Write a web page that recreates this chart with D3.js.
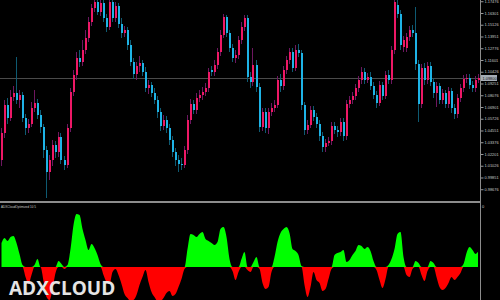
<!DOCTYPE html>
<html>
<head>
<meta charset="utf-8">
<script src="https://cdnjs.cloudflare.com/ajax/libs/d3/7.8.5/d3.min.js"></script>
<style>
  html, body { margin: 0; padding: 0; background: #000; overflow: hidden; }
  svg { display: block; }
</style>
</head>
<body>
<svg id="chart_svg" width="500" height="300"></svg>
<script>
// price bars, oldest first
const g_open = [
    1.016, 1.043, 1.071, 1.058, 1.079, 1.083, 1.076, 1.081, 1.058, 1.048,
    1.052, 1.068, 1.073, 1.061, 1.049, 1.026, 1.004, 1.016, 1.031, 1.024,
    1.039, 1.016, 1.011, 1.048, 1.084, 1.101, 1.118, 1.114, 1.126, 1.138,
    1.154, 1.168, 1.174, 1.164, 1.173, 1.158, 1.149, 1.174, 1.158, 1.170,
    1.152, 1.143, 1.146, 1.131, 1.114, 1.102, 1.110, 1.113, 1.104, 1.088,
    1.091, 1.083, 1.076, 1.064, 1.050, 1.056, 1.048, 1.036, 1.024, 1.016,
    1.012, 1.011, 1.026, 1.056, 1.072, 1.066, 1.078, 1.081, 1.084, 1.088,
    1.106, 1.104, 1.111, 1.124, 1.141, 1.159, 1.143, 1.128, 1.118, 1.121,
    1.136, 1.149, 1.158, 1.099, 1.094, 1.111, 1.089, 1.049, 1.064, 1.048,
    1.064, 1.068, 1.071, 1.096, 1.090, 1.106, 1.116, 1.124, 1.108, 1.126,
    1.123, 1.071, 1.046, 1.051, 1.066, 1.059, 1.052, 1.040, 1.029, 1.033,
    1.035, 1.050, 1.046, 1.044, 1.054, 1.040, 1.072, 1.076, 1.080, 1.088,
    1.096, 1.104, 1.096, 1.099, 1.090, 1.081, 1.073, 1.091, 1.080, 1.101,
    1.096, 1.126, 1.171, 1.162, 1.129, 1.128, 1.139, 1.146, 1.143, 1.112,
    1.072, 1.108, 1.096, 1.110, 1.094, 1.083, 1.090, 1.076, 1.083, 1.072,
    1.085, 1.068, 1.062, 1.078, 1.088, 1.097, 1.098, 1.091, 1.088, 1.096];
const g_high = [
    1.048, 1.076, 1.078, 1.086, 1.090, 1.119, 1.086, 1.084, 1.062, 1.057,
    1.074, 1.086, 1.077, 1.066, 1.052, 1.030, 1.021, 1.036, 1.035, 1.044,
    1.043, 1.020, 1.052, 1.088, 1.106, 1.124, 1.126, 1.136, 1.146, 1.159,
    1.172, 1.182, 1.179, 1.178, 1.176, 1.162, 1.180, 1.182, 1.174, 1.173,
    1.158, 1.150, 1.149, 1.136, 1.118, 1.114, 1.120, 1.116, 1.109, 1.096,
    1.094, 1.088, 1.080, 1.068, 1.061, 1.060, 1.052, 1.040, 1.028, 1.021,
    1.018, 1.030, 1.061, 1.077, 1.076, 1.083, 1.086, 1.089, 1.093, 1.108,
    1.110, 1.116, 1.128, 1.146, 1.162, 1.161, 1.146, 1.132, 1.126, 1.140,
    1.154, 1.161, 1.161, 1.104, 1.128, 1.116, 1.093, 1.068, 1.068, 1.068,
    1.073, 1.076, 1.100, 1.102, 1.110, 1.120, 1.128, 1.128, 1.131, 1.132,
    1.126, 1.074, 1.056, 1.070, 1.070, 1.063, 1.056, 1.044, 1.037, 1.039,
    1.054, 1.054, 1.050, 1.058, 1.058, 1.076, 1.080, 1.084, 1.092, 1.100,
    1.109, 1.108, 1.103, 1.104, 1.094, 1.085, 1.095, 1.094, 1.105, 1.106,
    1.130, 1.184, 1.176, 1.166, 1.140, 1.143, 1.150, 1.151, 1.169, 1.116,
    1.112, 1.113, 1.114, 1.114, 1.098, 1.094, 1.093, 1.087, 1.086, 1.089,
    1.088, 1.072, 1.082, 1.092, 1.101, 1.102, 1.102, 1.095, 1.100, 1.102];
const g_low = [
    1.010, 1.038, 1.052, 1.055, 1.075, 1.072, 1.068, 1.054, 1.041, 1.043,
    1.049, 1.064, 1.057, 1.043, 1.018, 0.978, 0.996, 1.010, 1.018, 1.019,
    1.012, 1.006, 1.008, 1.044, 1.080, 1.096, 1.109, 1.110, 1.122, 1.134,
    1.150, 1.164, 1.161, 1.160, 1.154, 1.144, 1.146, 1.154, 1.154, 1.148,
    1.138, 1.139, 1.126, 1.110, 1.097, 1.096, 1.104, 1.100, 1.084, 1.082,
    1.079, 1.072, 1.058, 1.045, 1.046, 1.043, 1.031, 1.019, 1.010, 1.004,
    1.006, 1.008, 1.022, 1.052, 1.062, 1.062, 1.074, 1.076, 1.080, 1.084,
    1.100, 1.100, 1.107, 1.120, 1.138, 1.139, 1.124, 1.114, 1.113, 1.117,
    1.132, 1.145, 1.094, 1.088, 1.090, 1.084, 1.044, 1.045, 1.043, 1.042,
    1.060, 1.064, 1.068, 1.084, 1.086, 1.102, 1.112, 1.104, 1.105, 1.119,
    1.066, 1.041, 1.042, 1.048, 1.055, 1.048, 1.035, 1.024, 1.024, 1.030,
    1.031, 1.042, 1.039, 1.040, 1.035, 1.036, 1.068, 1.072, 1.076, 1.084,
    1.092, 1.092, 1.093, 1.086, 1.077, 1.068, 1.070, 1.076, 1.077, 1.092,
    1.092, 1.122, 1.158, 1.126, 1.124, 1.124, 1.135, 1.139, 1.106, 1.054,
    1.068, 1.091, 1.092, 1.090, 1.078, 1.069, 1.072, 1.072, 1.068, 1.068,
    1.063, 1.057, 1.058, 1.074, 1.084, 1.093, 1.087, 1.084, 1.084, 1.093];
const g_close = [
    1.043, 1.071, 1.058, 1.079, 1.083, 1.076, 1.081, 1.058, 1.048, 1.052,
    1.068, 1.073, 1.061, 1.049, 1.026, 1.004, 1.016, 1.031, 1.024, 1.039,
    1.016, 1.011, 1.048, 1.084, 1.101, 1.118, 1.114, 1.126, 1.138, 1.154,
    1.168, 1.174, 1.164, 1.173, 1.158, 1.149, 1.174, 1.158, 1.170, 1.152,
    1.143, 1.146, 1.131, 1.114, 1.102, 1.110, 1.113, 1.104, 1.088, 1.091,
    1.083, 1.076, 1.064, 1.050, 1.056, 1.048, 1.036, 1.024, 1.016, 1.012,
    1.011, 1.026, 1.056, 1.072, 1.066, 1.078, 1.081, 1.084, 1.088, 1.104,
    1.104, 1.111, 1.124, 1.141, 1.159, 1.143, 1.128, 1.118, 1.121, 1.136,
    1.149, 1.158, 1.099, 1.094, 1.111, 1.089, 1.049, 1.064, 1.048, 1.064,
    1.068, 1.071, 1.096, 1.090, 1.106, 1.116, 1.124, 1.108, 1.126, 1.123,
    1.071, 1.046, 1.051, 1.066, 1.059, 1.052, 1.040, 1.029, 1.033, 1.035,
    1.050, 1.046, 1.044, 1.054, 1.040, 1.072, 1.076, 1.080, 1.088, 1.096,
    1.104, 1.096, 1.099, 1.090, 1.081, 1.073, 1.091, 1.080, 1.101, 1.096,
    1.126, 1.174, 1.162, 1.131, 1.136, 1.139, 1.146, 1.143, 1.112, 1.072,
    1.108, 1.096, 1.110, 1.094, 1.083, 1.090, 1.076, 1.083, 1.072, 1.085,
    1.068, 1.062, 1.078, 1.088, 1.097, 1.098, 1.091, 1.088, 1.096, 1.098];
const g_bid = 1.0980;

// right price scale labels
const g_price_ticks = [0.98676, 0.99851, 1.01026, 1.02201, 1.03376, 1.04551, 1.05726, 1.06901, 1.08076,
    1.09251, 1.10426, 1.11601, 1.12776, 1.13951, 1.15126, 1.16301, 1.17476];

// ADX cloud oscillator, one value per bar
const g_osc = [
    24, 29, 26, 30, 31, 24, 13, 2, -10, -17,
    -8, 2, 8, 0, -14, -30, -33, -22, -6, 6,
    3, -2, 2, 18, 42, 53, 52, 38, 27, 17,
    23, 19, 12, 3, -8, -15, -17, -5, -2, -8,
    -17, -27, -31, -34, -33, -28, -18, -10, -3, -15,
    -25, -30, -34, -34, -31, -26, -24, -29, -27, -20,
    -12, -2, 18, 33, 32, 30, 33, 35, 28, 26,
    24, 22, 25, 38, 40, 30, 8, -4, -13, -5,
    8, 15, -3, -5, 5, 10, -2, -16, -22, -20,
    -5, 10, 25, 34, 38, 40, 34, 18, 16, 12,
    1, -18, -30, -20, -5, -13, -16, -24, -22, -12,
    -2, 12, 14, 15, 17, 5, 7, 12, 16, 22,
    21, 18, 20, 16, 6, -3, -13, -21, -12, 2,
    8, 18, 33, 35, 10, -8, -10, -2, 6, 4,
    -8, -14, -4, 6, 4, -10, -20, -23, -21, -16,
    -10, -13, -10, -6, 3, 14, 20, 17, 13, 16];
const g_osc_name = "ADXCloudOptimized 10 5";
const g_osc_tick = "0";
const g_title = "ADXCLOUD";

var gv_plot_w = 480;
var gv_main = { top: 0, bottom: 200 }, gv_sub = { top: 204, bottom: 300 };
var gv_font = "'Liberation Sans', Arial, sans-serif";
var g_svg, g_x, g_y, g_osc_y;

initialize_svg();
draw_candles();
draw_price_axis();
draw_oscillator();

function initialize_svg() {
    g_svg = d3.select("#chart_svg");
    g_svg.append("rect").attr("width", 500).attr("height", 300).attr("fill", "#000");

    // clip boxes for both panes
    var defs = g_svg.append("defs");
    defs.append("clipPath").attr("id", "clip_main").append("rect")
        .attr("x", 0).attr("y", gv_main.top).attr("width", gv_plot_w).attr("height", gv_main.bottom - gv_main.top);
    defs.append("clipPath").attr("id", "clip_sub").append("rect")
        .attr("x", 0).attr("y", gv_sub.top).attr("width", gv_plot_w - 2).attr("height", gv_sub.bottom - gv_sub.top);

    // scalers
    g_x = d3.scaleLinear().domain([-0.5, g_close.length - 0.5]).range([0, gv_plot_w]);
    g_y = d3.scaleLinear().domain([0.976, 1.176]).range([gv_main.bottom, gv_main.top]);
    g_osc_y = d3.scaleLinear().domain([-33, 63]).range([gv_sub.bottom, gv_sub.top]);
}

function draw_candles() {
    var idx = d3.range(g_close.length);
    var bull = i => g_close[i] >= g_open[i];

    // bid line behind the bars
    g_svg.append("line")
        .attr("x1", 0).attr("x2", gv_plot_w)
        .attr("y1", Math.round(g_y(g_bid)) + 0.5).attr("y2", Math.round(g_y(g_bid)) + 0.5)
        .attr("stroke", "#4a4a4a").attr("stroke-width", 1);

    var g = g_svg.append("g").attr("clip-path", "url(#clip_main)");
    g.selectAll(".wick").data(idx).join("line").classed("wick", true)
        .attr("x1", i => Math.round(g_x(i)) - 0.5).attr("x2", i => Math.round(g_x(i)) - 0.5)
        .attr("y1", i => g_y(g_high[i])).attr("y2", i => g_y(g_low[i]))
        .attr("stroke", i => bull(i) ? "#6e1760" : "#0e5a72").attr("stroke-width", 1);
    g.selectAll(".body").data(idx).join("rect").classed("body", true)
        .attr("x", i => Math.round(g_x(i)) - 1).attr("width", 2)
        .attr("y", i => g_y(Math.max(g_open[i], g_close[i])))
        .attr("height", i => Math.max(1, Math.abs(g_y(g_open[i]) - g_y(g_close[i]))))
        .attr("fill", i => bull(i) ? "#ee1866" : "#1eb3e6");
}

function draw_price_axis() {
    var axis = d3.axisRight(g_y).tickValues(g_price_ticks).tickSize(3).tickPadding(1)
        .tickFormat(d3.format(".5f"));
    var ga = g_svg.append("g").attr("transform", "translate(" + (gv_plot_w + 0.5) + ",0)").call(axis);
    ga.select(".domain").remove();
    ga.selectAll(".tick line").attr("stroke", "#9a9a9a");
    ga.selectAll(".tick text").attr("fill", "#c8c8c8")
        .attr("font-family", gv_font).attr("font-size", 3.9);

    // current price tag
    var yb = g_y(g_bid);
    g_svg.append("rect").attr("x", gv_plot_w + 1).attr("y", yb - 3).attr("width", 16).attr("height", 6)
        .attr("fill", "#a4acb6");
    g_svg.append("text").attr("x", gv_plot_w + 2.5).attr("y", yb + 1.5)
        .attr("font-family", gv_font).attr("font-size", 3.9).attr("fill", "#111")
        .text(d3.format(".5f")(g_bid));

    // frame lines
    g_svg.append("line").attr("x1", gv_plot_w + 0.5).attr("x2", gv_plot_w + 0.5).attr("y1", 0).attr("y2", 300)
        .attr("stroke", "#8c8c8c").attr("stroke-width", 1);
    g_svg.append("rect").attr("x", 0).attr("y", 201).attr("width", gv_plot_w + 1).attr("height", 2)
        .attr("fill", "#8c8c8c");
}

function draw_oscillator() {
    var g = g_svg.append("g").attr("clip-path", "url(#clip_sub)");
    var zero = g_osc_y(0);

    // green cloud above zero, red cloud below
    var up = d3.area().x((d, i) => g_x(i)).y0(zero).y1(d => g_osc_y(Math.max(d, 0))).curve(d3.curveMonotoneX);
    var dn = d3.area().x((d, i) => g_x(i)).y0(zero).y1(d => g_osc_y(Math.min(d, 0))).curve(d3.curveMonotoneX);
    g.append("path").attr("d", up(g_osc)).attr("fill", "#00ff00");
    g.append("path").attr("d", dn(g_osc)).attr("fill", "#ff0000");

    // indicator name and scale mark
    g_svg.append("text").attr("x", 1).attr("y", 208)
        .attr("font-family", gv_font).attr("font-size", 3.8).attr("fill", "#c8c8c8")
        .attr("textLength", 35).attr("lengthAdjust", "spacingAndGlyphs")
        .text(g_osc_name);
    g_svg.append("text").attr("x", gv_plot_w + 2).attr("y", 208)
        .attr("font-family", gv_font).attr("font-size", 4).attr("fill", "#c8c8c8")
        .text(g_osc_tick);

    // watermark title
    g_svg.append("text").attr("x", 9).attr("y", 295)
        .attr("font-family", "'Open Sans', sans-serif").attr("font-weight", 700).attr("font-size", 19)
        .attr("fill", "#e4e4e4")
        .text(g_title);
}
</script>
</body>
</html>
